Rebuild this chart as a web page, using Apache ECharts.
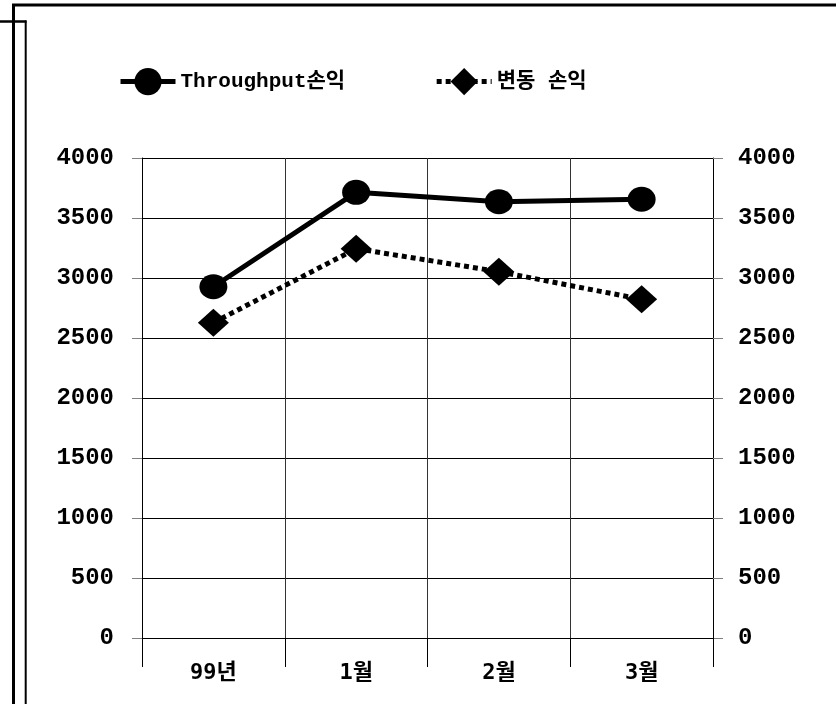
<!DOCTYPE html>
<html>
<head>
<meta charset="utf-8">
<script src="https://cdn.jsdelivr.net/npm/echarts@6/dist/echarts.min.js"></script>
<style>
  html, body { margin: 0; padding: 0; background: #fff; }
  #chart { width: 836px; height: 704px; }
</style>
</head>
<body>
<div id="chart"></div>
<script>
// Categories and values
const categories = ['99년', '1월', '2월', '3월'];
const throughputProfit = [2927, 3714, 3636, 3656];
const variableProfit = [2628, 3244, 3053, 2822];
const seriesNames = ['Throughput손익', '변동 손익'];
const yTicks = { min: 0, max: 4000, step: 500 };

const FONT = "'Liberation Mono', 'Noto Sans CJK KR', monospace";
const XFONT = "'DejaVu Sans Mono', 'Noto Sans CJK KR', monospace";

const chart = echarts.init(document.getElementById('chart'), null, { renderer: 'canvas' });

const yAxisBase = {
  type: 'value',
  min: yTicks.min,
  max: yTicks.max,
  interval: yTicks.step,
  axisLine: { show: true, lineStyle: { color: '#000', width: 1 } },
  axisTick: { show: true, length: 10, lineStyle: { color: '#7f7f7f', width: 1 } },
  axisLabel: {
    color: '#000', fontFamily: FONT, fontWeight: 'bold', fontSize: 24,
    formatter: v => String(v)
  }
};

chart.setOption({
  animation: false,
  backgroundColor: '#fff',
  textStyle: { fontFamily: FONT },
  legend: {
    top: 63,
    left: 113,
    itemWidth: 55,
    itemHeight: 34,
    itemGap: 89,
    lineStyle: { width: 5 },
    textStyle: { color: '#000', fontFamily: FONT, fontWeight: 'bold', fontSize: 21, padding: [6, 0, 0, 0] },
    data: seriesNames
  },
  grid: { left: 142, right: 123, top: 158, bottom: 66, containLabel: false },
  xAxis: {
    type: 'category',
    data: categories,
    boundaryGap: true,
    axisLine: { show: true, lineStyle: { color: '#000', width: 1 } },
    axisTick: { show: true, length: 29, lineStyle: { color: '#000', width: 1 } },
    splitLine: { show: true, lineStyle: { color: '#333', width: 1 } },
    axisLabel: { color: '#000', fontFamily: XFONT, fontWeight: 'bold', fontSize: 22, margin: 24 }
  },
  yAxis: [
    Object.assign({}, yAxisBase, {
      position: 'left',
      splitLine: { show: true, lineStyle: { color: '#000', width: 1 } },
      axisLabel: Object.assign({}, yAxisBase.axisLabel, { margin: 28 })
    }),
    Object.assign({}, yAxisBase, {
      position: 'right',
      splitLine: { show: false },
      axisLabel: Object.assign({}, yAxisBase.axisLabel, { margin: 25 })
    })
  ],
  series: [
    {
      name: seriesNames[0],
      type: 'line',
      data: throughputProfit,
      symbol: 'circle',
      symbolSize: [28, 25],
      itemStyle: { color: '#000' },
      lineStyle: { color: '#000', width: 5 },
      z: 3
    },
    {
      name: seriesNames[1],
      type: 'line',
      data: variableProfit,
      symbol: 'diamond',
      symbolSize: [31, 28],
      itemStyle: { color: '#000' },
      lineStyle: { color: '#000', width: 5, type: [5, 4], cap: 'butt' },
      z: 3
    }
  ],
  graphic: [
    // outer frame: top edge and left edge
    { type: 'line', shape: { x1: 12, y1: 5, x2: 836, y2: 5 }, style: { stroke: '#000', lineWidth: 3 } },
    { type: 'line', shape: { x1: 13.5, y1: 4, x2: 13.5, y2: 704 }, style: { stroke: '#000', lineWidth: 3 } },
    // inner left edge with stub
    { type: 'line', shape: { x1: 0, y1: 21.5, x2: 26.5, y2: 21.5 }, style: { stroke: '#000', lineWidth: 2.5 } },
    { type: 'line', shape: { x1: 25.7, y1: 20.5, x2: 25.7, y2: 704 }, style: { stroke: '#000', lineWidth: 2 } }
  ]
});
</script>
</body>
</html>
